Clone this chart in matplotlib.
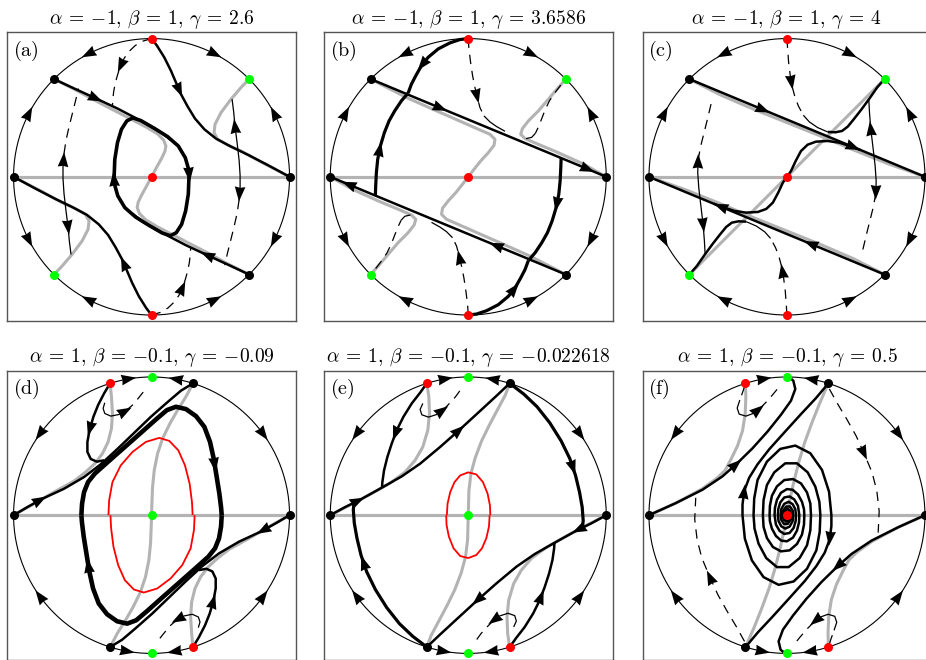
import numpy as np
import matplotlib.pyplot as plt
from matplotlib.patches import Polygon

plt.rcParams['mathtext.fontset'] = 'cm'
plt.rcParams['font.family'] = ['DejaVu Serif']

# Poincare disk radius in the units of the traced points
R = 4.13

alphas = [-1, -1, -1, 1, 1, 1]
betas = [1, 1, 1, -0.1, -0.1, -0.1]
gammas = [2.6, 3.6586, 4, -0.09, -0.022618, 0.5]
labels = ['a', 'b', 'c', 'd', 'e', 'f']

# singular points at infinity (angle in degrees), each also at angle + 180
inf_red = [[90], [90], [90], [107.5], [107.5], [107.5]]
inf_green = [[45], [45], [45], [90], [90], [90]]
inf_black = [[0, 135], [0, 135], [0, 135], [0, 72.5], [0, 72.5], [0, 72.5]]
origin_color = ['red', 'red', 'red', 'lime', 'lime', 'red']

# arrows on the circle at infinity: (angle, +1 ccw / -1 cw), each also at angle + 180
circle_arrows_top = [(117, 1), (63, -1), (153, -1), (27, 1)]
circle_arrows_bottom = [(99.8, -1), (79.6, 1), (143.7, 1), (36.2, -1)]

x_axis_null = [(-R, 0), (R, 0)]

# ---------------- panel (a) ----------------
a_null_s = [(0, 0), (0.15, 0.28), (0.30, 0.55), (0.40, 0.76), (0.43, 0.92), (0.36, 1.10),
            (0.18, 1.28), (-0.15, 1.48), (-0.80, 1.82), (-1.52, 2.19), (-2.32, 2.62), (-2.92, 2.92)]
a_null_side = [(2.92, 2.92), (2.68, 2.67), (2.38, 2.32), (2.08, 1.92), (1.90, 1.57), (1.87, 1.32),
               (1.98, 1.12), (2.28, 0.95), (2.68, 0.77), (3.28, 0.44), (4.13, 0)]
a_sep_red = [(0, 4.13), (0.16, 3.92), (0.38, 3.57), (0.58, 3.17), (0.73, 2.82), (0.88, 2.47),
             (1.08, 2.10), (1.30, 1.74), (1.58, 1.42), (1.93, 1.14), (2.38, 0.90), (2.88, 0.66),
             (3.48, 0.35), (4.13, 0)]
a_sep_tl = [(-2.92, 2.92), (-2.32, 2.64), (-1.62, 2.32), (-1.02, 2.04), (-0.56, 1.80),
            (-0.12, 1.56), (0.28, 1.33), (0.58, 1.10)]
a_cycle = [(-1.12, 0), (-1.10, 0.52), (-1.02, 1.02), (-0.90, 1.42), (-0.74, 1.67), (-0.56, 1.76),
           (-0.32, 1.68), (0.08, 1.45), (0.48, 1.20), (0.80, 0.92), (1.01, 0.57), (1.11, 0.22),
           (1.13, 0)]
a_dash_top = [(0, 4.13), (-0.27, 4.05), (-0.49, 3.92), (-0.68, 3.74), (-0.82, 3.54), (-0.92, 3.32),
              (-1.01, 3.07), (-1.08, 2.82), (-1.13, 2.57), (-1.16, 2.32), (-1.17, 2.12)]
a_side = [(2.41, 2.32), (2.46, 1.92), (2.50, 1.49), (2.56, 1.02), (2.62, 0.50), (2.65, 0.05),
          (2.65, -0.30), (2.62, -0.69), (2.56, -1.09), (2.47, -1.49), (2.37, -1.89),
          (2.27, -2.29), (2.19, -2.64)]

# ---------------- panel (b) ----------------
b_null_s = [(0, 0), (0.17, 0.22), (0.37, 0.47), (0.60, 0.72), (0.77, 0.94), (0.80, 1.12),
            (0.65, 1.27), (0.35, 1.40), (-0.15, 1.62), (-0.95, 1.97), (-1.85, 2.37), (-2.92, 2.92)]
b_null_side = [(2.92, 2.92), (2.70, 2.67), (2.40, 2.32), (2.10, 1.97), (1.80, 1.67), (1.62, 1.44),
               (1.57, 1.27), (1.70, 1.14), (2.05, 0.99), (2.65, 0.74), (3.45, 0.38), (4.13, 0)]
b_line = [(-2.92, 2.92), (-1.5, 2.33), (0, 1.71), (1.5, 1.09), (3.0, 0.47), (4.13, 0)]
b_sep_red = [(0, 4.13), (-0.25, 4.10), (-0.55, 4.00), (-0.90, 3.82), (-1.20, 3.57), (-1.40, 3.32),
             (-1.57, 3.02), (-1.70, 2.77), (-1.80, 2.50)]
b_sep_left = [(-2.78, -0.56), (-2.77, -0.28), (-2.75, 0.12), (-2.71, 0.52), (-2.63, 0.92),
              (-2.51, 1.32), (-2.37, 1.67), (-2.20, 1.97), (-2.00, 2.27), (-1.80, 2.50)]
b_dash_top = [(0, 4.13), (0.02, 3.82), (0.07, 3.42), (0.13, 3.02), (0.20, 2.67), (0.27, 2.37),
              (0.35, 2.07), (0.47, 1.82), (0.65, 1.64), (0.85, 1.50), (1.10, 1.36)]
b_dash_side = [(2.77, 2.74), (2.60, 2.52), (2.43, 2.27), (2.30, 2.00), (2.20, 1.74), (2.10, 1.49),
               (2.01, 1.30), (1.90, 1.18), (1.73, 1.14)]

# ---------------- panel (c) ----------------
c_null_diag = [(0, 0), (2.92, 2.92)]
c_null_hyp = [(-2.92, 2.92), (-2.0, 2.45), (-1.0, 2.02), (0.0, 1.62), (1.0, 1.22), (2.0, 0.80),
              (3.0, 0.40), (4.13, 0)]
c_line = [(-2.92, 2.92), (-1.5, 2.33), (0, 1.71), (1.5, 1.09), (3.0, 0.47), (4.13, 0)]
c_dash_top = [(0, 4.13), (0.02, 3.82), (0.05, 3.42), (0.10, 3.02), (0.15, 2.72), (0.23, 2.42),
              (0.34, 2.12), (0.49, 1.84), (0.67, 1.64), (0.92, 1.47), (1.22, 1.34)]
c_sep_green = [(1.22, 1.34), (1.45, 1.33), (1.65, 1.37), (1.82, 1.50), (2.00, 1.72), (2.22, 2.00),
               (2.47, 2.34), (2.70, 2.67), (2.92, 2.92)]
c_center = [(0, 0), (0.12, 0.17), (0.26, 0.47), (0.42, 0.77), (0.62, 0.96), (0.87, 1.05),
            (1.22, 1.07), (1.57, 1.02), (1.97, 0.89), (2.20, 0.80)]
c_side = [(2.45, 2.30), (2.47, 1.92), (2.51, 1.42), (2.57, 0.92), (2.64, 0.32), (2.67, -0.13),
          (2.66, -0.48), (2.59, -0.88), (2.49, -1.28), (2.39, -1.68), (2.27, -2.18)]

# ---------------- panel (d) ----------------
d_null_c = [(1.24, 3.94), (1.03, 3.54), (0.78, 3.14), (0.55, 2.74), (0.33, 2.29), (0.18, 1.84),
            (0.08, 1.34), (0.03, 0.84), (0.01, 0.34), (0, 0)]
d_null_side = [(-1.24, 3.94), (-1.20, 3.54), (-1.17, 3.04), (-1.20, 2.59), (-1.30, 2.19),
               (-1.47, 1.84), (-1.70, 1.54), (-1.97, 1.29), (-2.32, 1.02), (-2.92, 0.69),
               (-3.52, 0.34), (-4.13, 0)]
d_line = [(-4.13, 0), (-3.72, 0.24), (-3.27, 0.49), (-2.62, 0.79), (-2.02, 1.14), (-1.52, 1.52),
          (-1.02, 1.98), (-0.52, 2.46), (-0.02, 2.94), (0.48, 3.38), (0.88, 3.72), (1.24, 3.94)]
d_cycle = [(-2.10, 0), (-2.08, 0.34), (-2.02, 0.69), (-1.90, 0.99), (-1.70, 1.24), (-1.32, 1.58),
           (-0.82, 2.02), (-0.32, 2.46), (0.13, 2.86), (0.46, 3.14), (0.73, 3.24), (1.03, 3.17),
           (1.33, 2.96), (1.58, 2.64), (1.75, 2.19), (1.86, 1.69), (1.95, 1.14), (2.03, 0.64),
           (2.08, 0.24), (2.10, 0)]
d_red_cycle = [(-1.29, 0), (-1.27, 0.44), (-1.17, 0.99), (-0.92, 1.49), (-0.57, 1.89),
               (-0.17, 2.19), (0.23, 2.31), (0.53, 2.22), (0.80, 1.94), (1.00, 1.49), (1.14, 0.94),
               (1.21, 0.39), (1.23, 0)]
d_sep_red = [(-1.24, 3.94), (-1.42, 3.64), (-1.60, 3.29), (-1.74, 2.94), (-1.85, 2.56),
             (-1.92, 2.19), (-1.92, 1.89), (-1.82, 1.68), (-1.64, 1.60), (-1.42, 1.64)]
d_hook = [(-1.40, 3.36), (-1.45, 3.19), (-1.40, 3.04), (-1.22, 2.96), (-0.97, 3.01), (-0.77, 3.12),
          (-0.57, 3.29), (-0.40, 3.49), (-0.24, 3.69), (-0.14, 3.84)]

# ---------------- panel (e) ----------------
e_null_c = [(1.24, 3.94), (1.11, 3.59), (0.88, 3.16), (0.63, 2.69), (0.40, 2.22), (0.21, 1.72),
            (0.08, 1.24), (0.02, 0.74), (0, 0)]
e_null_side = [(-1.24, 3.94), (-1.18, 3.54), (-1.16, 3.04), (-1.21, 2.54), (-1.36, 2.04),
               (-1.59, 1.64), (-1.89, 1.29), (-2.34, 0.96), (-2.94, 0.62), (-3.54, 0.30), (-4.13, 0)]
e_line = [(-4.13, 0), (-3.69, 0.24), (-3.24, 0.46), (-2.59, 0.82), (-1.99, 1.16), (-1.44, 1.54),
          (-0.84, 2.04), (-0.24, 2.57), (0.36, 3.12), (0.86, 3.58), (1.24, 3.94)]
e_right = [(1.24, 3.94), (1.66, 3.62), (2.06, 3.24), (2.44, 2.76), (2.78, 2.22), (3.04, 1.69),
           (3.21, 1.19), (3.33, 0.69), (3.41, 0.24), (3.44, -0.16), (3.42, -0.36)]
e_sep_red = [(-1.24, 3.94), (-1.44, 3.66), (-1.69, 3.34), (-1.94, 2.94), (-2.14, 2.54),
             (-2.29, 2.14), (-2.42, 1.74), (-2.52, 1.34), (-2.57, 0.99), (-2.58, 0.82)]
e_hook = [(-1.36, 3.34), (-1.44, 3.16), (-1.39, 3.00), (-1.19, 2.93), (-0.94, 3.01), (-0.76, 3.14),
          (-0.56, 3.34), (-0.38, 3.54), (-0.22, 3.76)]
e_red_cycle = [(-0.64, 0), (-0.62, 0.34), (-0.54, 0.69), (-0.41, 0.99), (-0.24, 1.19), (0, 1.28),
               (0.24, 1.22), (0.44, 0.99), (0.58, 0.64), (0.65, 0.29), (0.66, 0)]

# ---------------- panel (f) ----------------
f_null_c = [(1.24, 3.94), (0.99, 3.37), (0.75, 2.77), (0.53, 2.17), (0.35, 1.57), (0.20, 0.97),
            (0.09, 0.47), (0, 0)]
f_null_side = [(-1.24, 3.94), (-1.23, 3.52), (-1.25, 3.02), (-1.33, 2.52), (-1.48, 2.07),
               (-1.68, 1.66), (-1.85, 1.34), (-2.10, 1.10), (-2.55, 0.78), (-3.33, 0.36), (-4.13, 0)]
f_line = [(-4.13, 0), (-3.33, 0.36), (-2.53, 0.76), (-1.93, 1.16), (-1.50, 1.54), (-1.03, 2.00),
          (-0.58, 2.50), (-0.18, 3.00), (0.12, 3.42), (0.25, 3.77), (0.19, 4.02), (0.05, 4.13)]
f_spiral = [(0.06, 0), (0.03, -0.10), (-0.05, -0.10), (-0.09, 0),
            (-0.07, 0.12), (0.02, 0.19), (0.10, 0.13), (0.13, 0),
            (0.11, -0.14), (0.02, -0.26), (-0.09, -0.26), (-0.17, -0.14), (-0.19, 0),
            (-0.17, 0.18), (-0.08, 0.34), (0.05, 0.40), (0.17, 0.33), (0.25, 0.18), (0.27, 0),
            (0.26, -0.18), (0.20, -0.38), (0.08, -0.53), (-0.08, -0.56), (-0.22, -0.47),
            (-0.33, -0.28), (-0.37, 0),
            (-0.36, 0.22), (-0.30, 0.46), (-0.18, 0.67), (0.0, 0.78), (0.17, 0.76), (0.33, 0.62),
            (0.45, 0.40), (0.51, 0.18), (0.52, 0),
            (0.51, -0.28), (0.45, -0.58), (0.30, -0.86), (0.08, -1.05), (-0.18, -1.08),
            (-0.42, -0.95), (-0.60, -0.68), (-0.70, -0.35), (-0.72, 0),
            (-0.70, 0.45), (-0.60, 0.90), (-0.38, 1.28), (-0.05, 1.55), (0.30, 1.55), (0.62, 1.28),
            (0.85, 0.85), (0.97, 0.40), (1.0, 0),
            (0.98, -0.50), (0.88, -1.05), (0.60, -1.60), (0.20, -1.98), (-0.25, -2.08),
            (-0.70, -1.85), (-1.05, -1.35), (-1.26, -0.70), (-1.33, 0),
            (-1.33, 0.32), (-1.28, 0.72), (-1.13, 1.12), (-0.88, 1.52), (-0.53, 1.97),
            (-0.08, 2.47), (0.42, 3.02), (0.87, 3.50), (1.24, 3.94)]
f_dash_right = [(1.27, 3.77), (1.52, 3.32), (1.79, 2.87), (2.07, 2.37), (2.32, 1.82), (2.55, 1.27),
                (2.69, 0.72), (2.76, 0.12), (2.73, -0.52)]
f_hook = [(-1.27, 3.85), (-1.31, 3.72), (-1.41, 3.44), (-1.49, 3.20), (-1.43, 3.02), (-1.23, 2.96),
          (-0.98, 3.05), (-0.81, 3.19), (-0.61, 3.39), (-0.41, 3.62), (-0.23, 3.84)]

GRAY = '#b3b3b3'
STYLES = {
    'gray': dict(color=GRAY, lw=2.2, zorder=1),
    'cyc': dict(color='k', lw=2.6, zorder=3),
    'cyc_d': dict(color='k', lw=3.3, zorder=3),
    'thick': dict(color='k', lw=2.3, zorder=3),
    'sep': dict(color='k', lw=1.8, zorder=3),
    'thin': dict(color='k', lw=0.9, zorder=3),
    'dash': dict(color='k', lw=0.9, zorder=3, ls=(0, (7.5, 5.5))),
    'red': dict(color='red', lw=1.3, zorder=2),
}

# each entry: (points, [(first index, last index, style), ...], [(position index, direction)])
panel_curves = [
    [(x_axis_null, [(0, 1, 'gray')], []),
     (a_null_s, [(0, 11, 'gray')], []),
     (a_null_side, [(0, 10, 'gray')], []),
     (a_sep_red, [(0, 13, 'sep')], [(4.6, 1)]),
     (a_sep_tl, [(0, 7, 'sep')], [(1.9, 1)]),
     (a_cycle, [(0, 12, 'cyc')], [(11.6, 1)]),
     (a_dash_top, [(0, 10, 'dash')], [(4.9, 1)]),
     (a_side, [(0, 7, 'thin'), (7, 12, 'dash')], [(2.0, -1), (6.5, 1)])],
    [(x_axis_null, [(0, 1, 'gray')], []),
     (b_null_s, [(0, 11, 'gray')], []),
     (b_null_side, [(0, 11, 'gray')], []),
     (b_line, [(0, 5, 'sep')], [(1.43, 1), (4.49, 1)]),
     (b_sep_red, [(0, 8, 'thick')], [(4.8, 1)]),
     (b_sep_left, [(0, 9, 'thick')], [(3.7, 1)]),
     (b_dash_top, [(0, 7, 'dash'), (7, 10, 'thin')], [(4.8, 1)]),
     (b_dash_side, [(0, 6, 'dash'), (6, 8, 'thin')], [])],
    [(x_axis_null, [(0, 1, 'gray')], []),
     (c_null_diag, [(0, 1, 'gray')], []),
     (c_null_hyp, [(0, 7, 'gray')], []),
     (c_line, [(0, 5, 'sep')], [(1.51, 1), (3.31, 1)]),
     (c_dash_top, [(0, 7, 'dash'), (7, 10, 'thin')], [(3.6, 1)]),
     (c_sep_green, [(0, 8, 'sep')], []),
     (c_center, [(0, 9, 'sep')], []),
     (c_side, [(0, 6, 'thin'), (6, 10, 'dash')], [(2.0, -1), (5.9, 1)])],
    [(x_axis_null, [(0, 1, 'gray')], []),
     (d_null_c, [(0, 9, 'gray')], []),
     (d_null_side, [(0, 11, 'gray')], []),
     (d_line, [(0, 11, 'sep')], [(1.8, 1)]),
     (d_cycle, [(0, 19, 'cyc_d')], [(15.3, 1)]),
     (d_red_cycle, [(0, 12, 'red')], []),
     (d_sep_red, [(0, 9, 'sep')], [(3.9, 1)]),
     (d_hook, [(0, 5, 'thin'), (5, 9, 'dash')], [(4.8, 1)])],
    [(x_axis_null, [(0, 1, 'gray')], []),
     (e_null_c, [(0, 8, 'gray')], []),
     (e_null_side, [(0, 10, 'gray')], []),
     (e_line, [(0, 10, 'sep')], [(1.8, 1), (6.9, 1)]),
     (e_right, [(0, 10, 'thick')], [(5.5, 1)]),
     (e_sep_red, [(0, 9, 'sep')], [(4.2, 1)]),
     (e_hook, [(0, 5, 'thin'), (5, 8, 'dash')], [(4.8, 1)]),
     (e_red_cycle, [(0, 10, 'red')], [])],
    [(x_axis_null, [(0, 1, 'gray')], []),
     (f_null_c, [(0, 7, 'gray')], []),
     (f_null_side, [(0, 10, 'gray')], []),
     (f_line, [(0, 11, 'sep')], [(3.9, 1)]),
     (f_spiral, [(0, 71, 'sep')], [(62.9, 1)]),
     (f_dash_right, [(0, 8, 'dash')], [(3.9, 1)]),
     (f_hook, [(0, 2, 'dash'), (2, 7, 'thin'), (7, 10, 'dash')], [(6.6, 1)])],
]

AH_LEN, AH_W = 0.44, 0.16


def arrowhead(ax, p, t, zorder=6):
    t = t / np.hypot(*t)
    n = np.array([-t[1], t[0]])
    tip = p + t * AH_LEN * 0.55
    back = p - t * AH_LEN * 0.45
    notch = p - t * AH_LEN * 0.38
    ax.add_patch(Polygon([tip, back + n * AH_W, notch, back - n * AH_W],
                         closed=True, fc='k', ec='none', zorder=zorder))


def curve_arrow(ax, pts, pos, direction):
    i = min(int(np.floor(pos)), len(pts) - 2)
    f = pos - i
    p = pts[i] + f * (pts[i + 1] - pts[i])
    arrowhead(ax, p, direction * (pts[i + 1] - pts[i]))


fig = plt.figure(figsize=(9.26, 6.6), dpi=100)
col_left = [7.3, 324.0, 642.7]
row_top = [32.3, 370.7]
W, H = 288.5, 289.0
half = 144.25 * R / 138.0
theta = np.linspace(0, 2 * np.pi, 400)

for k in range(6):
    r, c = divmod(k, 3)
    ax = fig.add_axes([col_left[c] / 926, 1 - (row_top[r] + H) / 660, W / 926, H / 660])
    ax.set_xlim(-half, half)
    ax.set_ylim(-half, half)
    ax.set_xticks([])
    ax.set_yticks([])
    for s in ax.spines.values():
        s.set_color('#555555')
        s.set_linewidth(1.0)
    ax.set_title(rf'$\alpha\:=\:{{{alphas[k]:g}}},\,\beta\:=\:{{{betas[k]:g}}},'
                 rf'\,\gamma\:=\:{{{gammas[k]:g}}}$', fontsize=14, pad=6)
    ax.text(0.02, 0.978, rf'$\mathrm{{({labels[k]})}}$', transform=ax.transAxes,
            fontsize=14.5, va='top', ha='left')

    ax.plot(R * np.cos(theta), R * np.sin(theta), color='k', lw=0.8, zorder=2)

    for pts, segs, arrows in panel_curves[k]:
        pts = np.asarray(pts, float)
        # every portrait is symmetric under (x, y) -> (-x, -y)
        for sign in (1, -1):
            q = sign * pts
            for i0, i1, st in segs:
                ax.plot(q[i0:i1 + 1, 0], q[i0:i1 + 1, 1], solid_capstyle='butt', **STYLES[st])
            for pos, d in arrows:
                curve_arrow(ax, q, pos, d)

    carrows = circle_arrows_top if k < 3 else circle_arrows_bottom
    for ang, d in carrows:
        for extra in (0, 180):
            a = np.radians(ang + extra)
            p = np.array([R * np.cos(a), R * np.sin(a)])
            arrowhead(ax, p, d * np.array([-np.sin(a), np.cos(a)]))

    for angs, col in ((inf_red[k], 'red'), (inf_green[k], 'lime'), (inf_black[k], 'k')):
        for ang in angs:
            for extra in (0, 180):
                a = np.radians(ang + extra)
                ax.plot(R * np.cos(a), R * np.sin(a), 'o', ms=6.5, color=col, mec='none', zorder=8)
    ax.plot(0, 0, 'o', ms=6.5, color=origin_color[k], mec='none', zorder=8)

fig.savefig('out.png', dpi=100)
